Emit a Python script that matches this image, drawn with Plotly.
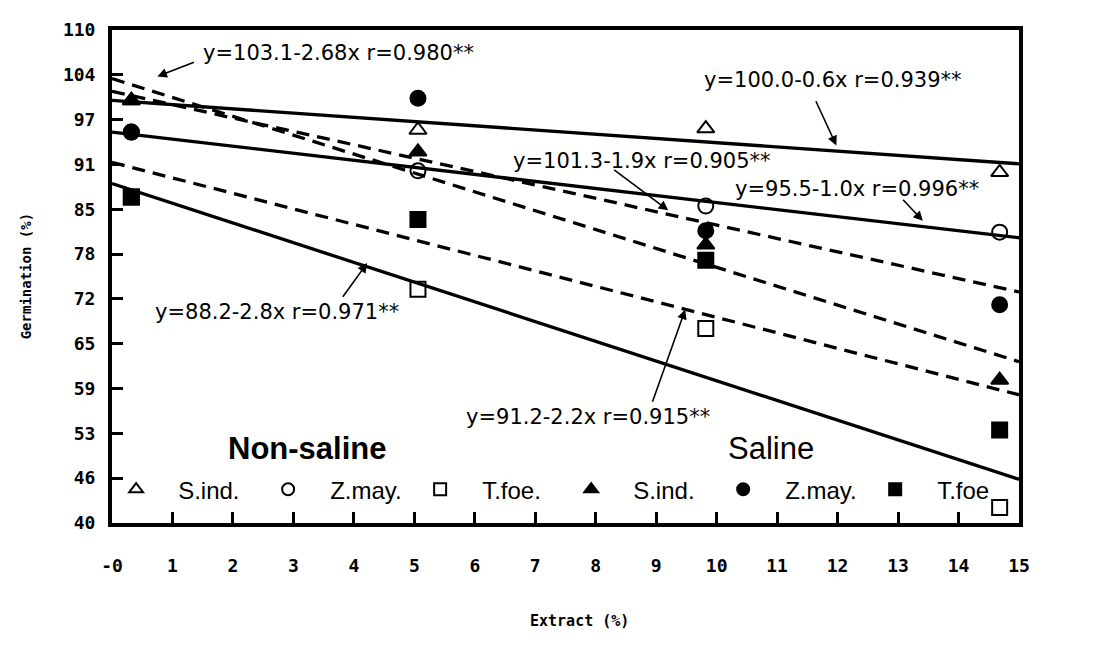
import plotly.graph_objects as go

# ---- data ----
x_levels = [0.32, 5.06, 9.82, 14.68]
sind_nonsaline = [100.0, 95.8, 96.0, 89.8]
zmay_nonsaline = [95.5, 90.0, 85.0, 81.3]
tfoe_nonsaline = [86.3, 73.2, 67.6, 42.2]
sind_saline = [100.0, 92.7, 79.5, 60.3]
zmay_saline = [95.5, 100.3, 81.5, 71.0]
tfoe_saline = [86.3, 83.1, 77.3, 53.2]

fit_x = [0, 15]
fit_sind_nonsaline = [100.0, 91.0]
fit_zmay_nonsaline = [95.5, 80.5]
fit_tfoe_nonsaline = [88.2, 46.2]
fit_sind_saline = [103.1, 62.9]
fit_zmay_saline = [101.3, 72.8]
fit_tfoe_saline = [91.2, 58.2]

x_ticks = list(range(0, 16))
x_ticktext = ["-0"] + [str(i) for i in range(1, 16)]
y_ticktext = ["40", "46", "53", "59", "65", "72", "78", "85", "91", "97", "104", "110"]
y_ticks = [40 + k * 70 / 11 for k in range(12)]

# text, text-left x, text y, arrow tail x, tail y, arrow head x, head y
equations = [
    ("y=103.1-2.68x r=0.980**", 1.48, 106.7, 1.38, 105.5, 0.75, 103.4),
    ("y=100.0-0.6x r=0.939**", 9.75, 102.9, 11.63, 100.1, 11.98, 93.6),
    ("y=101.3-1.9x r=0.905**", 6.60, 91.4, 8.28, 90.3, 9.20, 84.4),
    ("y=95.5-1.0x r=0.996**", 10.27, 87.4, 13.06, 86.1, 13.41, 82.9),
    ("y=88.2-2.8x r=0.971**", 0.67, 70.0, 3.80, 71.9, 4.22, 76.9),
    ("y=91.2-2.2x r=0.915**", 5.82, 55.0, 8.93, 57.0, 9.48, 70.3),
]

fig = go.Figure()

dash_style = "13px,8px"
line_specs = [
    (fit_sind_nonsaline, "solid"), (fit_zmay_nonsaline, "solid"), (fit_tfoe_nonsaline, "solid"),
    (fit_sind_saline, dash_style), (fit_zmay_saline, dash_style), (fit_tfoe_saline, dash_style),
]
for ys, dash in line_specs:
    fig.add_trace(go.Scatter(x=fit_x, y=ys, mode="lines", showlegend=False,
                             line=dict(color="black", width=3.3, dash=dash), hoverinfo="skip"))

marker_specs = [
    ("S.ind.", sind_nonsaline, "triangle-up-open", "legend"),
    ("Z.may.", zmay_nonsaline, "circle-open", "legend"),
    ("T.foe.", tfoe_nonsaline, "square-open", "legend"),
    ("S.ind.", sind_saline, "triangle-up", "legend2"),
    ("Z.may.", zmay_saline, "circle", "legend2"),
    ("T.foe", tfoe_saline, "square", "legend2"),
]
for name, ys, sym, lg in marker_specs:
    fig.add_trace(go.Scatter(x=x_levels, y=ys, mode="markers", name=name, legend=lg,
                             marker=dict(symbol=sym, size=15, color="black",
                                         line=dict(color="black", width=2))))

eq_font = dict(family="DejaVu Sans", size=21, color="black")
annotations = []
for text, tx, ty, ax0, ay0, hx, hy in equations:
    annotations.append(dict(x=tx, y=ty, xref="x", yref="y", text=text, showarrow=False,
                            xanchor="left", yanchor="middle", font=eq_font))
    annotations.append(dict(x=hx, y=hy, ax=ax0, ay=ay0, xref="x", yref="y", axref="x", ayref="y",
                            text="", showarrow=True, arrowhead=2, arrowsize=1.2, arrowwidth=1.6,
                            arrowcolor="black"))
annotations.append(dict(x=3.23, y=50.6, xref="x", yref="y", text="<b>Non-saline</b>", showarrow=False,
                        font=dict(family="Liberation Sans", size=31, color="black")))
annotations.append(dict(x=10.9, y=50.6, xref="x", yref="y", text="Saline", showarrow=False,
                        font=dict(family="Liberation Sans", size=31, color="black")))
annotations.append(dict(x=0.515, y=-0.198, xref="paper", yref="paper", text="Extract (%)",
                        showarrow=False, yanchor="middle",
                        font=dict(family="DejaVu Sans Mono", size=15, color="black", weight="bold")))
annotations.append(dict(x=-0.095, y=0.5, xref="paper", yref="paper", text="Germination (%)",
                        showarrow=False, textangle=-90, xanchor="center", yanchor="middle",
                        font=dict(family="DejaVu Sans Mono", size=14, color="black", weight="bold")))

tickfont = dict(family="DejaVu Sans Mono", size=18, color="black", weight="bold")
legend_common = dict(orientation="h", yanchor="bottom", y=0.022, xanchor="left",
                     entrywidth=63, entrywidthmode="pixels", itemwidth=74,
                     bgcolor="rgba(0,0,0,0)", itemsizing="constant",
                     font=dict(family="Liberation Sans", size=24, color="black"))

fig.update_layout(
    width=1109, height=658,
    margin=dict(l=104, r=98, t=11, b=143),
    paper_bgcolor="white", plot_bgcolor="white",
    annotations=annotations,
    legend=dict(x=-0.0197, **legend_common),
    legend2=dict(x=0.482, **legend_common),
    xaxis=dict(range=[0, 15], tickvals=x_ticks, ticktext=x_ticktext, ticks="inside", ticklen=11,
               tickwidth=3, tickcolor="black", showline=True, linewidth=4, linecolor="black",
               mirror=True, showgrid=False, zeroline=False, tickfont=tickfont,
               ticklabelstandoff=23),
    yaxis=dict(range=[40, 110], tickvals=y_ticks, ticktext=y_ticktext, ticks="inside", ticklen=11,
               tickwidth=3, tickcolor="black", showline=True, linewidth=4, linecolor="black",
               mirror=True, showgrid=False, zeroline=False, tickfont=tickfont,
               ticklabelstandoff=9),
)

fig.write_html("out.html")
